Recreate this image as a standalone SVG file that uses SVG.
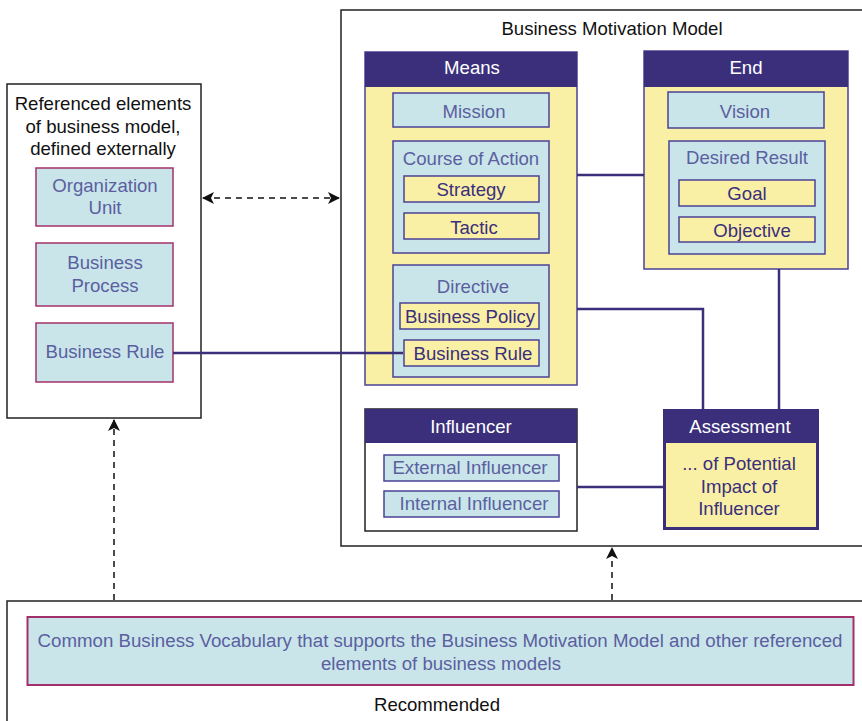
<svg xmlns="http://www.w3.org/2000/svg" width="862" height="721" viewBox="0 0 862 721">
<style>
text{font-family:"Liberation Sans",Arial,sans-serif;font-size:18.6px;text-anchor:middle}
.frame{fill:#fff;stroke:#222;stroke-width:1.5}
.hdr{fill:#3b2f7c}
.ht{fill:#fff}
.yel{fill:#f9f0a6;stroke:#4b4296;stroke-width:1.5}
.blu{fill:#c9e5ea;stroke:#4b4296;stroke-width:1.5}
.pnk{fill:#c9e5ea;stroke:#a3306a;stroke-width:1.5}
.bt{fill:#5b5fa0}
.dt{fill:#3b2f7c}
.kt{fill:#111}
.con{fill:none;stroke:#3b2f7c;stroke-width:2.5}
.dash{fill:none;stroke:#111;stroke-width:1.5;stroke-dasharray:6 5}
</style>
<defs>
<marker id="ah" viewBox="0 0 12 12" refX="11" refY="6" markerWidth="12" markerHeight="12" markerUnits="userSpaceOnUse" orient="auto-start-reverse">
<path d="M0,0 L12,6 L0,12 L3,6 z" fill="#111"/>
</marker>
</defs>

<g id="bmm">
<rect class="frame" x="341" y="10" width="525" height="536"/>
<text class="kt" x="612" y="35">Business Motivation Model</text>
</g>

<g id="external">
<rect class="frame" x="7" y="84" width="194" height="334"/>
<text class="kt" x="103" y="110">Referenced elements</text>
<text class="kt" x="103" y="133">of business model,</text>
<text class="kt" x="103" y="155">defined externally</text>
</g>
<g id="orgunit">
<rect class="pnk" x="36" y="168" width="137" height="58"/>
<text class="bt" x="105" y="192">Organization</text>
<text class="bt" x="105" y="214">Unit</text>
</g>
<g id="bprocess">
<rect class="pnk" x="36" y="243" width="137" height="63"/>
<text class="bt" x="105" y="269">Business</text>
<text class="bt" x="105" y="292">Process</text>
</g>
<g id="brule-ext">
<rect class="pnk" x="36" y="323" width="137" height="59"/>
<text class="bt" x="105" y="358">Business Rule</text>
</g>

<g id="means">
<rect class="yel" x="365" y="52" width="212" height="333"/>
<rect class="hdr" x="365" y="52" width="212" height="35"/>
<text class="ht" x="472" y="74">Means</text>
</g>
<g id="mission">
<rect class="blu" x="393" y="93" width="156" height="34"/>
<text class="bt" x="474" y="118">Mission</text>
</g>
<g id="course">
<rect class="blu" x="393" y="141" width="156" height="112"/>
<text class="bt" x="471" y="165">Course of Action</text>
</g>
<g id="strategy">
<rect class="yel" x="404" y="176" width="135" height="26"/>
<text class="dt" x="471" y="196">Strategy</text>
</g>
<g id="tactic">
<rect class="yel" x="404" y="213" width="135" height="26"/>
<text class="dt" x="474" y="234">Tactic</text>
</g>
<g id="directive">
<rect class="blu" x="393" y="265" width="156" height="112"/>
<text class="bt" x="473" y="293">Directive</text>
</g>
<g id="policy">
<rect class="yel" x="400" y="303" width="139" height="26"/>
<text class="dt" x="470" y="323">Business Policy</text>
</g>
<g id="brule">
<rect class="yel" x="404" y="340" width="135" height="26"/>
<text class="dt" x="473" y="360">Business Rule</text>
</g>

<g id="end">
<rect class="yel" x="644" y="51" width="204" height="218"/>
<rect class="hdr" x="644" y="51" width="204" height="36"/>
<text class="ht" x="746" y="74">End</text>
</g>
<g id="vision">
<rect class="blu" x="668" y="92" width="156" height="36"/>
<text class="bt" x="745" y="118">Vision</text>
</g>
<g id="desired">
<rect class="blu" x="669" y="141" width="156" height="113"/>
<text class="bt" x="747" y="164">Desired Result</text>
</g>
<g id="goal">
<rect class="yel" x="679" y="180" width="136" height="26"/>
<text class="dt" x="747" y="200">Goal</text>
</g>
<g id="objective">
<rect class="yel" x="679" y="217" width="136" height="25"/>
<text class="dt" x="752" y="237">Objective</text>
</g>

<g id="influencer">
<rect x="365" y="409" width="212" height="122" fill="#fff" stroke="#222" stroke-width="1.5"/>
<rect class="hdr" x="365" y="409" width="212" height="34"/>
<text class="ht" x="471" y="433">Influencer</text>
</g>
<g id="extinf">
<rect class="blu" x="384" y="455" width="175" height="26"/>
<text class="bt" x="470" y="474">External Influencer</text>
</g>
<g id="intinf">
<rect class="blu" x="384" y="491" width="175" height="26"/>
<text class="bt" x="474" y="510">Internal Influencer</text>
</g>

<g id="assessment">
<rect x="664.5" y="410.5" width="153" height="118" fill="#f9f0a6" stroke="#3b2f7c" stroke-width="3"/>
<rect class="hdr" x="664" y="410" width="154" height="33"/>
<text class="ht" x="740" y="433">Assessment</text>
<text class="dt" x="739" y="470">... of Potential</text>
<text class="dt" x="739" y="493">Impact of</text>
<text class="dt" x="739" y="515">Influencer</text>
</g>

<g id="vocab">
<rect class="frame" x="7" y="601" width="860" height="130"/>
<rect x="27.5" y="617" width="826" height="68" fill="#c9e5ea" stroke="#a3306a" stroke-width="2"/>
<text class="bt" x="440" y="647" style="font-size:18px" textLength="805" lengthAdjust="spacingAndGlyphs">Common Business Vocabulary that supports the Business Motivation Model and other referenced</text>
<text class="bt" x="441" y="670" style="font-size:18px" textLength="240" lengthAdjust="spacingAndGlyphs">elements of business models</text>
<text class="kt" x="437" y="711">Recommended</text>
</g>

<g id="connectors">
<path class="con" d="M173,353 H403"/>
<path class="con" d="M577,175 H644"/>
<path class="con" d="M577,309 H703 V410"/>
<path class="con" d="M779,269 V410"/>
<path class="con" d="M577,487 H663"/>
<path class="dash" d="M203,198 H339" marker-start="url(#ah)" marker-end="url(#ah)"/>
<path class="dash" d="M114,600 V420" marker-end="url(#ah)"/>
<path class="dash" d="M612,600 V548" marker-end="url(#ah)"/>
</g>
</svg>
